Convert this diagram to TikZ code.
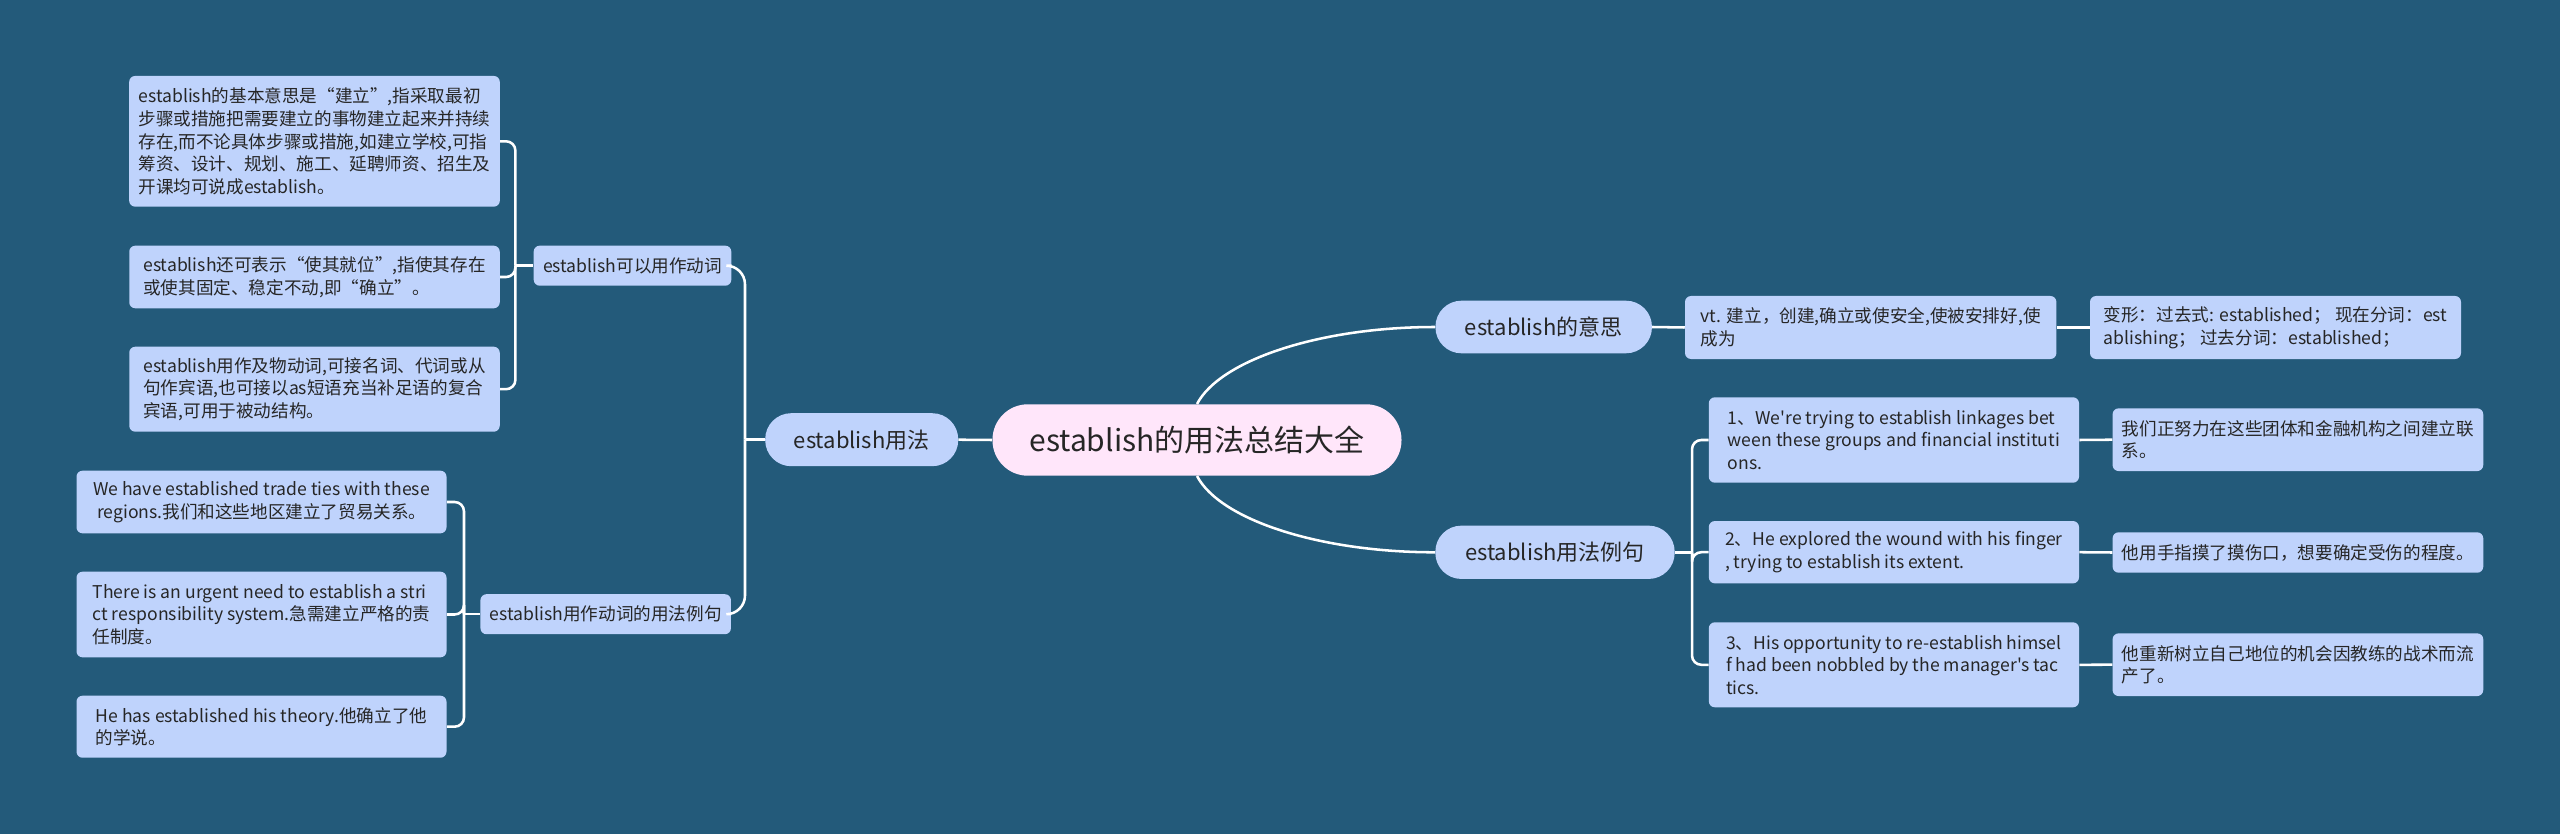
\documentclass[tikz,border=0pt]{standalone}
\usepackage{fontspec}
\setmainfont{Noto Sans CJK SC}[Ligatures=TeXOff]
\definecolor{bg}{HTML}{235A7A}
\definecolor{nodeblue}{HTML}{BFD3FC}
\definecolor{rootpink}{HTML}{FFE6FA}
\definecolor{txt}{HTML}{262626}
\begin{document}
\begin{tikzpicture}[x=0.75pt,y=-0.75pt,
  leaf/.style={rectangle, rounded corners=4.5pt, fill=nodeblue, text=txt,
    font=\fontsize{13.2pt}{16.9pt}\selectfont, align=left, inner xsep=7pt, inner ysep=0pt},
  midnode/.style={rectangle, rounded corners=19.5pt, fill=nodeblue, text=txt,
    font=\fontsize{16.5pt}{20pt}\selectfont, inner sep=0pt},
  rootnode/.style={rectangle, rounded corners=26.5pt, fill=rootpink, text=txt,
    font=\fontsize{22.5pt}{27pt}\selectfont, inner sep=0pt},
  conn/.style={draw=white, line width=1.9pt},
  brk/.style={draw=white, line width=1.9pt, rounded corners=7pt}
]
\fill[bg] (0,0) rectangle (2560,834);
\useasboundingbox (0,0) rectangle (2560,834);

% root and main branches
\node[rootnode, minimum width=409*0.75pt, minimum height=71.4*0.75pt] (R) at (1197,440) {establish的用法总结大全};
\node[midnode, minimum width=193*0.75pt, minimum height=53*0.75pt] (U) at (861.7,439.7) {establish用法};
\node[midnode, minimum width=216.5*0.75pt, minimum height=52.6*0.75pt] (M) at (1543.7,327) {establish的意思};
\node[midnode, minimum width=239.3*0.75pt, minimum height=53.3*0.75pt] (X) at (1555,552.3) {establish用法例句};

% level 2 left
\node[leaf, minimum width=197*0.75pt, minimum height=40*0.75pt] (K) at (632.5,265.7) {establish可以用作动词};
\node[leaf, minimum width=250.5*0.75pt, minimum height=40*0.75pt] (E) at (605.7,614.2) {establish用作动词的用法例句};

% leaves of K
\node[leaf, minimum width=370.5*0.75pt, minimum height=130.7*0.75pt] (A1) at (314.5,141.3) {establish的基本意思是“建立”,指采取最初\\步骤或措施把需要建立的事物建立起来并持续\\存在,而不论具体步骤或措施,如建立学校,可指\\筹资、设计、规划、施工、延聘师资、招生及\\开课均可说成establish。};
\node[leaf, minimum width=370.5*0.75pt, minimum height=62.6*0.75pt] (A2) at (314.5,277) {establish还可表示“使其就位”,指使其存在\\或使其固定、稳定不动,即“确立”。};
\node[leaf, minimum width=370.5*0.75pt, minimum height=85*0.75pt] (A3) at (314.5,389.2) {establish用作及物动词,可接名词、代词或从\\句作宾语,也可接以as短语充当补足语的复合\\宾语,可用于被动结构。};

% leaves of E
\node[leaf, minimum width=370*0.75pt, minimum height=62.6*0.75pt] (B1) at (261.5,502) {We have established trade ties with these\\\ regions.我们和这些地区建立了贸易关系。};
\node[leaf, minimum width=370*0.75pt, minimum height=85.6*0.75pt] (B2) at (261.5,614.5) {There is an urgent need to establish a stri\\ct responsibility system.急需建立严格的责\\任制度。};
\node[leaf, minimum width=370*0.75pt, minimum height=62*0.75pt] (B3) at (261.5,726.7) {He has established his theory.他确立了他\\的学说。};

% meaning branch
\node[leaf, minimum width=371.4*0.75pt, minimum height=63*0.75pt] (V) at (1870.7,327.5) {vt. 建立，创建,确立或使安全,使被安排好,使\\成为};
\node[leaf, minimum width=371*0.75pt, minimum height=63*0.75pt] (F) at (2275.5,327.5) {变形：过去式: established；\ 现在分词：est\\ablishing；\ 过去分词：established；};

% example branch
\node[leaf, minimum width=370.2*0.75pt, minimum height=85.4*0.75pt] (Ex1) at (1893.9,440) {1、We're trying to establish linkages bet\\ween these groups and financial instituti\\ons.};
\node[leaf, minimum width=370.2*0.75pt, minimum height=62.3*0.75pt] (Ex2) at (1893.9,552.2) {2、He explored the wound with his finger\\, trying to establish its extent.};
\node[leaf, minimum width=370.2*0.75pt, minimum height=85*0.75pt] (Ex3) at (1893.9,664.8) {3、His opportunity to re-establish himsel\\f had been nobbled by the manager's tac\\tics.};
\node[leaf, minimum width=369.8*0.75pt, minimum height=62.7*0.75pt] (Tr1) at (2297.9,439.7) {我们正努力在这些团体和金融机构之间建立联\\系。};
\node[leaf, minimum width=369.8*0.75pt, minimum height=40.4*0.75pt] (Tr2) at (2297.9,552.5) {他用手指摸了摸伤口，想要确定受伤的程度。};
\node[leaf, minimum width=369.8*0.75pt, minimum height=62.7*0.75pt] (Tr3) at (2297.9,664.7) {他重新树立自己地位的机会因教练的战术而流\\产了。};

% junction coordinates
\coordinate (ub) at (745,439.7);
\coordinate (kb) at (515.4,265.7);
\coordinate (eb) at (464,614.2);
\coordinate (xb) at (1692,552.3);

% connectors
\draw[conn] (R.west) -- (U.east);
\draw[conn] (R.north) .. controls (1220,360) and (1320,327) .. (M.west);
\draw[conn] (R.south) .. controls (1220,520) and (1320,552.3) .. (X.west);
\draw[conn] (M.east) -- (V.west);
\draw[conn] (V.east) -- (F.west);

\draw[conn, rounded corners=14pt] (K.east) -| (ub);
\draw[conn, rounded corners=14pt] (E.east) -| (ub);
\draw[conn] (ub) -- (U.west);

\draw[brk] (A1.east) -| (kb);
\draw[brk] (A2.east) -| (kb);
\draw[brk] (A3.east) -| (kb);
\draw[conn] (kb) -- (K.west);

\draw[brk] (B1.east) -| (eb);
\draw[brk] (B2.east) -| (eb);
\draw[brk] (B3.east) -| (eb);
\draw[conn] (eb) -- (E.west);

\draw[brk] (Ex1.west) -| (xb);
\draw[brk] (Ex2.west) -| (xb);
\draw[brk] (Ex3.west) -| (xb);
\draw[conn] (xb) -- (X.east);

\draw[conn] (Ex1.east) -- (Tr1.west);
\draw[conn] (Ex2.east) -- (Tr2.west);
\draw[conn] (Ex3.east) -- (Tr3.west);
\end{tikzpicture}
\end{document}
